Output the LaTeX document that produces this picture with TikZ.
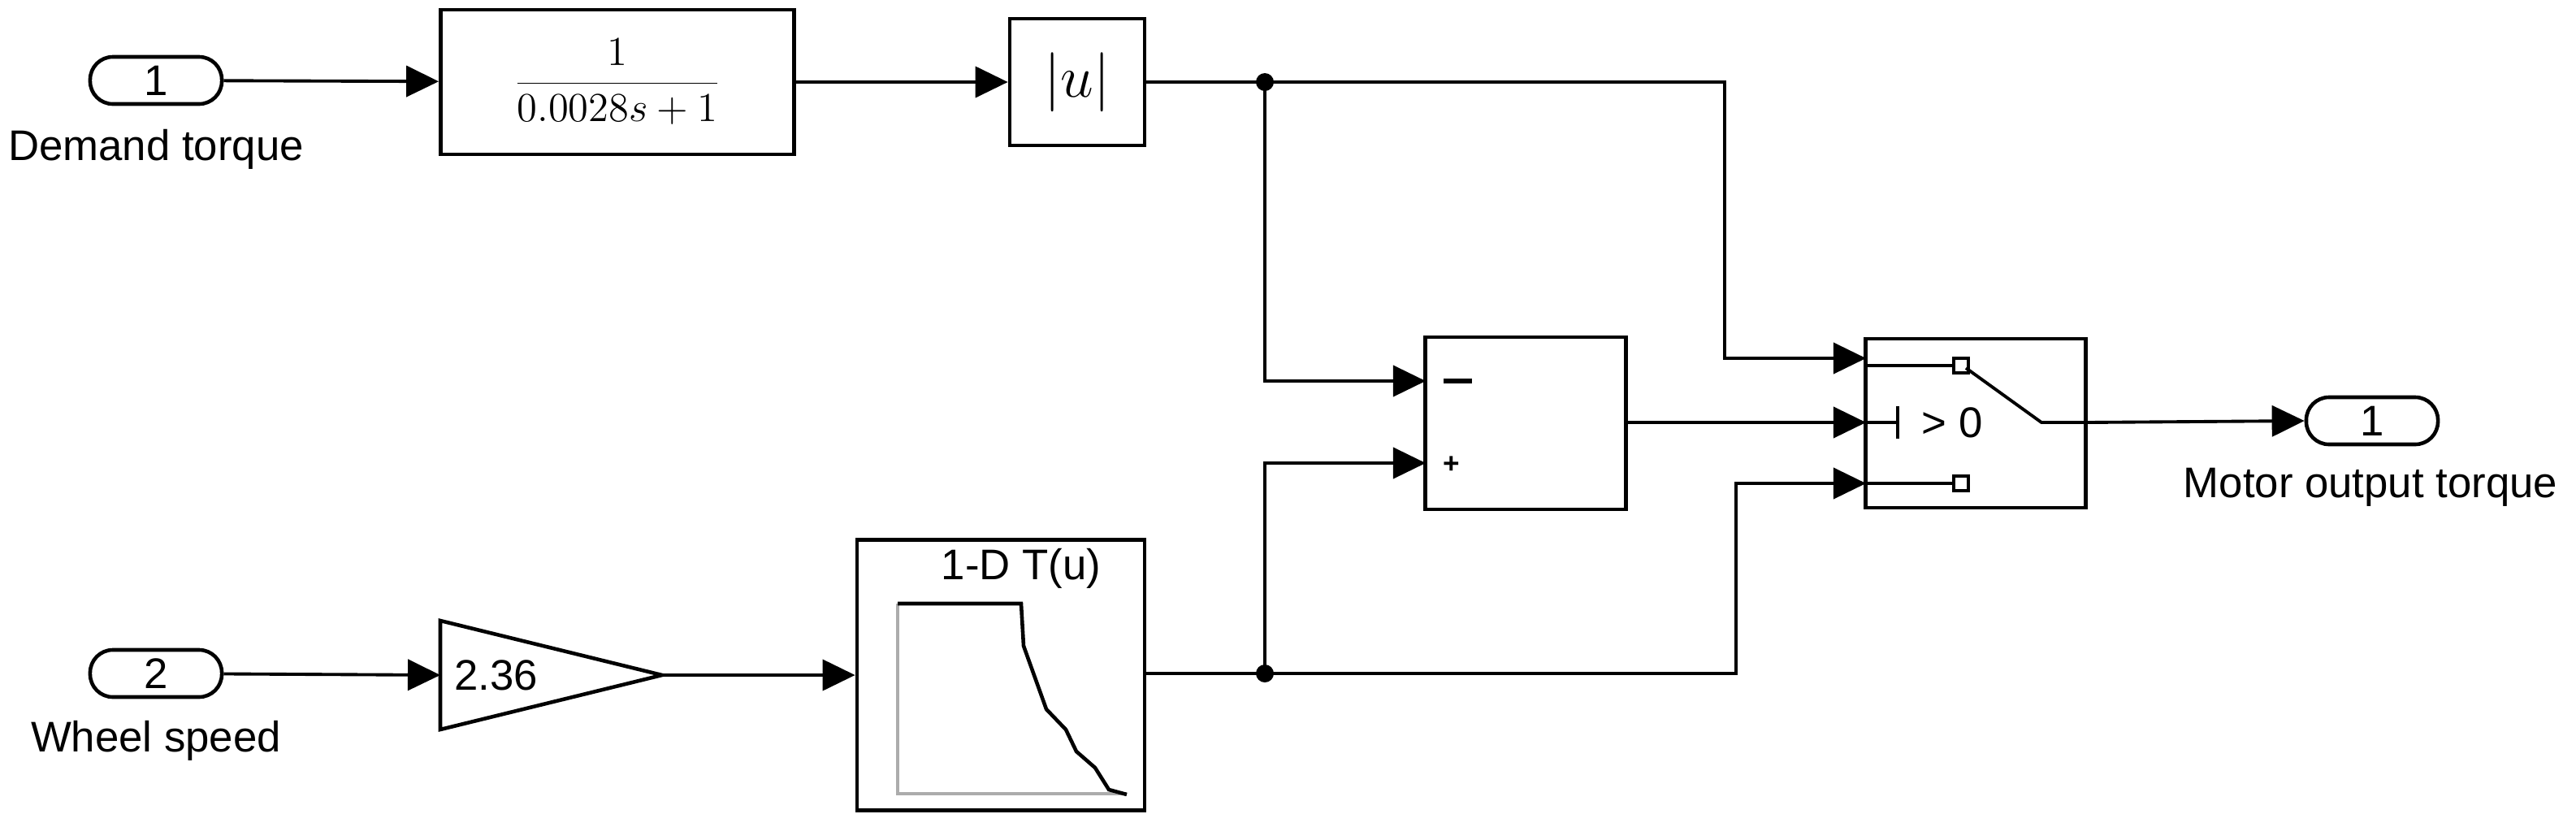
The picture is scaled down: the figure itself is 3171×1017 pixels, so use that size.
\documentclass[tikz,border=0pt]{standalone}
\usepackage{fontspec}
\setmainfont{Liberation Sans}
\usetikzlibrary{arrows.meta}
\begin{document}
\begin{tikzpicture}[x=0.01cm,y=-0.01cm,line width=1.1pt,
  blk/.style={draw,line width=1.3pt,inner sep=0pt},
  port/.style={draw,line width=1.3pt,rounded corners=0.28cm,minimum width=1.62cm,minimum height=0.58cm,inner sep=0pt,font=\fontsize{15}{17}\selectfont},
  sig/.style={-{Triangle[length=0.4cm,width=0.38cm]}},
  lbl/.style={font=\fontsize{15}{18}\selectfont},
  dot/.style={circle,fill,inner sep=0pt,minimum size=0.22cm}]
\useasboundingbox (0,0) rectangle (3171,1017);
\node[port] (in1) at (192,99) {1};
\node[lbl] at (192,184) {Demand torque};
\node[port] (in2) at (192,829) {2};
\node[lbl] at (192,912) {Wheel speed};
\node[port] (out1) at (2920,518) {1};
\node[lbl] at (2918,600) {Motor output torque};
\node[blk,minimum width=4.35cm,minimum height=1.78cm,font=\fontsize{15}{18}\selectfont] (tf) at (760,101) {$\displaystyle\frac{1}{0.0028s+1}$};
\node[blk,minimum width=1.66cm,minimum height=1.56cm,font=\fontsize{22}{26}\selectfont] (abs) at (1326,101) {$\left|u\right|$};
\node[blk,minimum width=2.47cm,minimum height=2.12cm] (sum) at (1878,521) {};
\node[blk,minimum width=2.71cm,minimum height=2.08cm] (sw) at (2432,521) {};
\node[blk,minimum width=3.54cm,minimum height=3.33cm] (lut) at (1232,831) {};
\node[font=\normalsize\bfseries] at (1787,572) {+};
\draw[line width=1.6pt] (1777,469) -- (1812,469);
\node[lbl] at (1257,700) {1-D T(u)};
\draw[gray!65,line width=1.2pt] (1105,743) -- (1105,977) -- (1387,977);
\draw[line width=1.3pt] (1105,743) -- (1257,743) -- (1260,795) -- (1288,873) -- (1312,898) -- (1325,925) -- (1348,945) -- (1365,972) -- (1387,978);
% gain
\draw[line width=1.3pt] (542,764) -- (815,831) -- (542,898) -- cycle;
\coordinate (gin) at (542,831);
\coordinate (gout) at (815,831);
\node[lbl,anchor=west] at (546,831) {2.36};
% switch internals
\draw (2297,450) -- (2405,450);
\draw[line width=1.1pt,fill=white] (2405,441) rectangle (2423,459);
\draw (2297,595) -- (2405,595);
\draw[line width=1.1pt,fill=white] (2405,586) rectangle (2423,604);
\draw (2420,453) -- (2513,520) -- (2568,520);
\draw (2297,520) -- (2336,520);
\draw (2336,500) -- (2336,540);
\node[lbl,anchor=west] at (2352,520) {> 0};
% connections
\draw[sig] (in1) -- (tf);
\draw[sig] (tf.east) -- (abs.west |- tf.east);
\coordinate (j1) at (1557,101);
\coordinate (j2) at (1557,829);
\draw (abs.east |- j1) -- (j1);
\node[dot] at (j1) {};
\draw[sig] (j1) -- (2123,101) -- (2123,441) -- (2297,441);
\draw[sig] (j1) -- (1557,469) -- (1755,469);
\draw[sig] (sum.east |- 0,520) -- (2297,520);
\draw[sig] (2568,520) -- (out1.west);
\draw[sig] (in2) -- (gin);
\draw[sig] (gout) -- (lut.west |- gout);
\draw (lut.east |- j2) -- (j2);
\node[dot] at (j2) {};
\draw[sig] (j2) -- (1557,570) -- (1755,570);
\draw[sig] (j2) -- (2137,829) -- (2137,595) -- (2297,595);
\end{tikzpicture}
\end{document}
